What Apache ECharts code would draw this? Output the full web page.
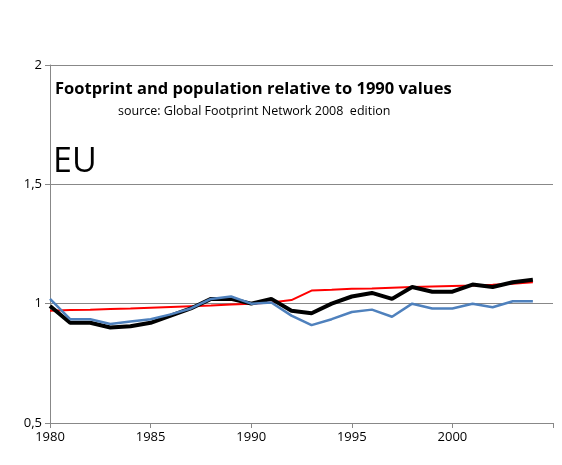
<!DOCTYPE html>
<html>
<head>
<meta charset="UTF-8">
<style>
  body { margin: 0; background: #fff; }
  #chart { width: 562px; height: 465px; }
</style>
</head>
<body>
<div id="chart"></div>
<script src="https://cdn.jsdelivr.net/npm/echarts@6/dist/echarts.min.js"></script>
<script>
  const years = [1980,1981,1982,1983,1984,1985,1986,1987,1988,1989,1990,1991,1992,1993,1994,1995,1996,1997,1998,1999,2000,2001,2002,2003,2004]
  const footprintTotal = [0.99,0.92,0.92,0.90,0.905,0.92,0.95,0.98,1.02,1.02,1.0,1.02,0.97,0.96,1.0,1.03,1.045,1.02,1.07,1.05,1.05,1.08,1.07,1.09,1.10]
  const footprintPerCapita = [1.02,0.935,0.935,0.915,0.925,0.935,0.955,0.98,1.02,1.03,1.0,1.005,0.95,0.91,0.935,0.965,0.975,0.945,1.0,0.98,0.98,1.0,0.985,1.01,1.01]
  const population = [0.97,0.973,0.975,0.978,0.98,0.983,0.986,0.989,0.992,0.996,1.0,1.005,1.015,1.055,1.058,1.062,1.064,1.067,1.07,1.072,1.074,1.076,1.079,1.083,1.09]

  const pairs = arr => years.map((y, i) => [y, arr[i]])

  const chart = echarts.init(document.getElementById('chart'))
  chart.setOption({
    animation: false,
    grid: { left: 50, right: 9, top: 65, bottom: 42 },
    title: [
      { text: 'Footprint and population relative to 1990 values', left: 50, top: 76,
        textStyle: { fontFamily: 'Open Sans', fontSize: 16.5, fontWeight: 'bold', color: '#000' } },
      { text: 'source: Global Footprint Network 2008  edition', left: 113, top: 100,
        textStyle: { fontFamily: 'Open Sans', fontSize: 12.5, fontWeight: 'normal', color: '#000' } },
      { text: 'EU', left: 48, top: 140,
        textStyle: { fontFamily: 'Open Sans', fontSize: 34, fontWeight: 'normal', color: '#000' } }
    ],
    xAxis: {
      type: 'value', min: 1980, max: 2005, interval: 5,
      axisLine: { lineStyle: { color: '#888' } },
      axisTick: { show: true, length: 5, lineStyle: { color: '#888' } },
      splitLine: { show: false },
      axisLabel: { color: '#000', fontSize: 13, fontFamily: 'Open Sans',
        formatter: v => v > 2000 ? '' : String(v) }
    },
    yAxis: {
      type: 'value', min: 0.5, max: 2, interval: 0.5,
      axisLine: { show: true, lineStyle: { color: '#888' } },
      axisTick: { show: true, length: 5, lineStyle: { color: '#888' } },
      splitLine: { lineStyle: { color: '#888' } },
      axisLabel: { color: '#000', fontSize: 13, fontFamily: 'Open Sans',
        formatter: v => String(v).replace('.', ',') }
    },
    series: [
      { type: 'line', data: pairs(population), symbol: 'none', lineStyle: { color: '#ff0000', width: 2 } },
      { type: 'line', data: pairs(footprintTotal), symbol: 'none', lineStyle: { color: '#000', width: 4 } },
      { type: 'line', data: pairs(footprintPerCapita), symbol: 'none', lineStyle: { color: '#4f81bd', width: 2.5 } }
    ]
  })
</script>
</body>
</html>
